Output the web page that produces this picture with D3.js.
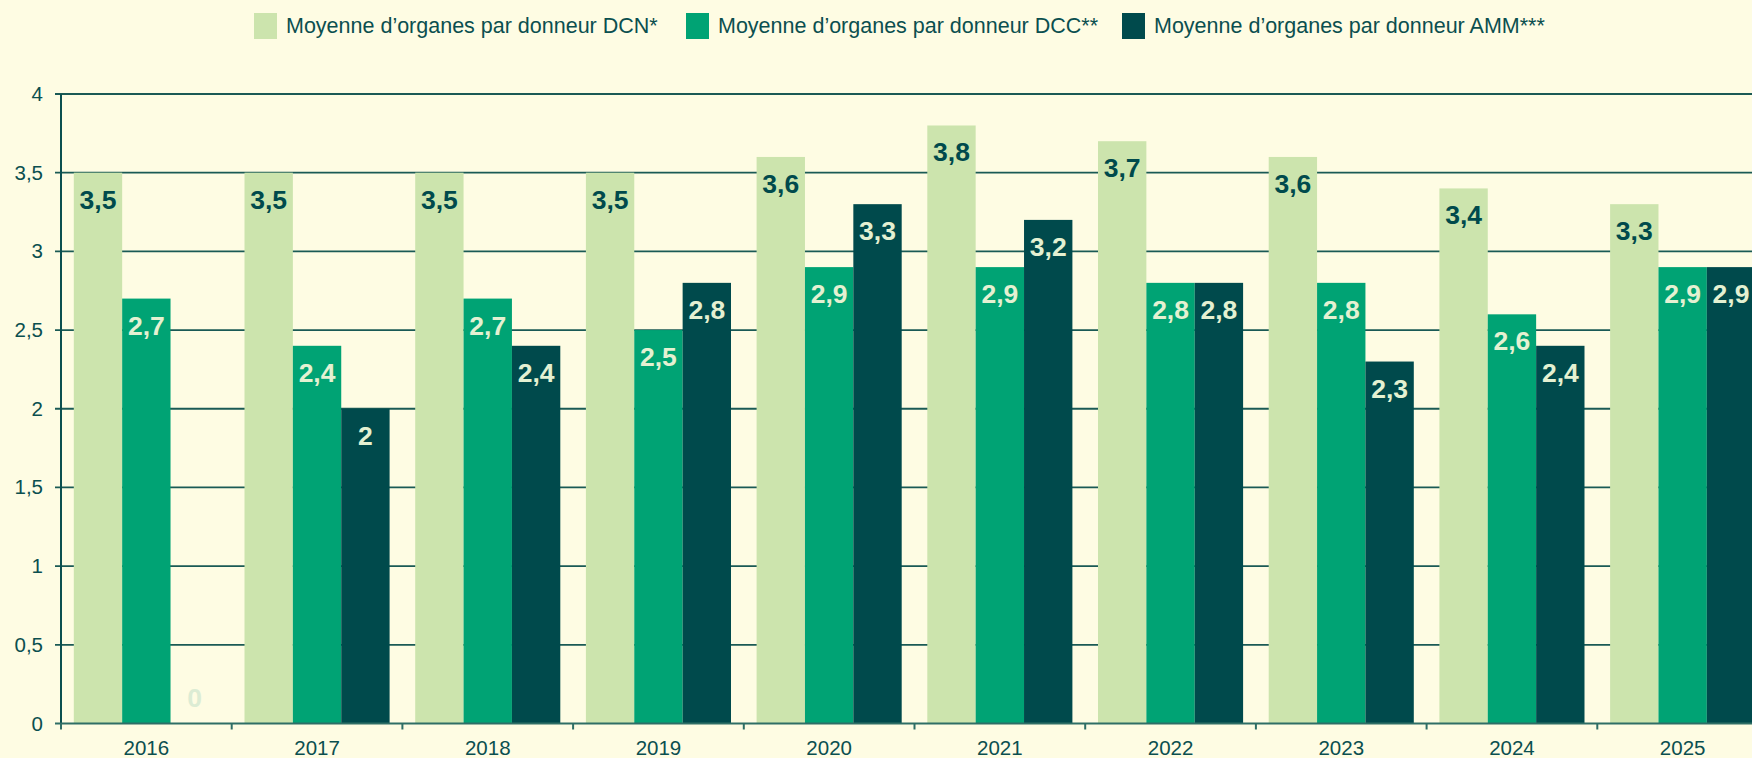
<!DOCTYPE html>
<html>
<head>
<meta charset="utf-8">
<script src="https://cdn.jsdelivr.net/npm/d3@7"></script>
<style>
  html, body { margin: 0; padding: 0; background: #fefce3; overflow: hidden; }
  svg { display: block; font-family: "Liberation Sans", Arial, sans-serif; }
</style>
</head>
<body>
<svg id="chart" width="1752" height="758"></svg>
<script>
const years = ['2016', '2017', '2018', '2019', '2020', '2021', '2022', '2023', '2024', '2025']
const seriesNames = [
    'Moyenne d’organes par donneur DCN*',
    'Moyenne d’organes par donneur DCC**',
    'Moyenne d’organes par donneur AMM***'
]
const dcn = [3.5, 3.5, 3.5, 3.5, 3.6, 3.8, 3.7, 3.6, 3.4, 3.3]
const dcc = [2.7, 2.4, 2.7, 2.5, 2.9, 2.9, 2.8, 2.8, 2.6, 2.9]
const amm = [0, 2, 2.4, 2.8, 3.3, 3.2, 2.8, 2.3, 2.4, 2.9]
const yTicks = [0, 0.5, 1, 1.5, 2, 2.5, 3, 3.5, 4]

const colors = ['#cce4ad', '#00a374', '#004a4c']
const labelColors = ['#004a4c', '#e4f1d2', '#e4f1d2']
const ink = '#0b4f4f'
const fmt = v => String(v).replace('.', ',')

const svg = d3.select('#chart')
const plotLeft = 61, plotTop = 94, plotBottom = 723.5
const step = 170.7

let x0 = d3.scaleBand().domain(years).range([plotLeft, plotLeft + step * years.length]).paddingInner(0.15).paddingOuter(0.075)
let x1 = d3.scaleBand().domain([0, 1, 2]).range([0, x0.bandwidth()])
let y = d3.scaleLinear().domain([0, 4]).range([plotBottom, plotTop])

// grid
svg.append('g')
    .selectAll('line')
    .data(yTicks.slice(1))
    .join('line')
    .attr('x1', plotLeft - 6).attr('x2', 1752)
    .attr('y1', d => y(d)).attr('y2', d => y(d))
    .attr('stroke', '#1a5a55').attr('stroke-width', 1.8)

// y tick labels
svg.append('g')
    .selectAll('text')
    .data(yTicks)
    .join('text')
    .attr('x', 43).attr('y', d => y(d) + 7)
    .attr('text-anchor', 'end')
    .attr('font-size', 20.5)
    .attr('fill', ink)
    .text(d => fmt(d))

const rows = []
years.forEach((yr, i) => {
    [dcn, dcc, amm].forEach((s, k) => rows.push({ yr, k, v: s[i] }))
})

const g = svg.append('g')
g.selectAll('rect')
    .data(rows.filter(d => d.v > 0))
    .join('rect')
    .attr('x', d => x0(d.yr) + x1(d.k))
    .attr('width', x1.bandwidth())
    .attr('y', d => y(d.v))
    .attr('height', d => y(0) - y(d.v))
    .attr('fill', d => colors[d.k])

g.selectAll('text')
    .data(rows)
    .join('text')
    .attr('x', d => x0(d.yr) + x1(d.k) + x1.bandwidth() / 2)
    .attr('y', d => d.v > 0 ? y(d.v) + 36 : y(0) - 17)
    .attr('text-anchor', 'middle')
    .attr('font-size', 26.5)
    .attr('font-weight', 'bold')
    .attr('fill', d => d.v > 0 ? labelColors[d.k] : '#dcecd4')
    .text(d => fmt(d.v))

// axes lines
svg.append('line')
    .attr('x1', plotLeft).attr('x2', plotLeft).attr('y1', plotTop).attr('y2', plotBottom)
    .attr('stroke', ink).attr('stroke-width', 2)
svg.append('line')
    .attr('x1', plotLeft - 6).attr('x2', 1752).attr('y1', plotBottom).attr('y2', plotBottom)
    .attr('stroke', '#2f6e66').attr('stroke-width', 2)

svg.append('g')
    .selectAll('line')
    .data(d3.range(years.length + 1))
    .join('line')
    .attr('x1', i => plotLeft + i * x0.step()).attr('x2', i => plotLeft + i * x0.step())
    .attr('y1', plotBottom).attr('y2', plotBottom + 6)
    .attr('stroke', '#2f6e66').attr('stroke-width', 2)

svg.append('g')
    .selectAll('text')
    .data(years)
    .join('text')
    .attr('x', d => x0(d) + x0.bandwidth() / 2)
    .attr('y', 755)
    .attr('text-anchor', 'middle')
    .attr('font-size', 20.5)
    .attr('fill', ink)
    .text(d => d)

const legendX = [254, 686, 1122]
const legend = svg.append('g')
seriesNames.forEach((name, k) => {
    legend.append('rect')
        .attr('x', legendX[k]).attr('y', 13).attr('width', 23).attr('height', 26)
        .attr('fill', colors[k])
    legend.append('text')
        .attr('x', legendX[k] + 32).attr('y', 33)
        .attr('font-size', 21.5)
        .attr('fill', ink)
        .text(name)
})
</script>
</body>
</html>
